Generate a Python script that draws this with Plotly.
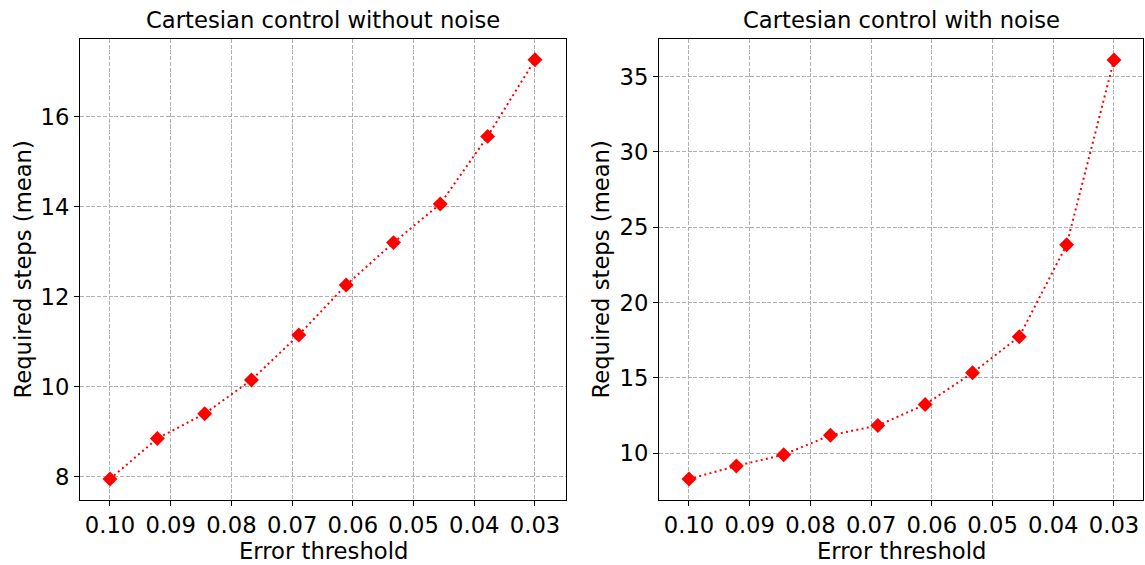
import plotly.graph_objects as go

# ---- data ----
thresholds = [0.10, 0.0922, 0.0844, 0.0767, 0.0689, 0.0611, 0.0533, 0.0456, 0.0378, 0.03]
steps_no_noise = [7.95, 8.85, 9.40, 10.15, 11.15, 12.26, 13.20, 14.06, 15.56, 17.26]
steps_noise = [8.29, 9.16, 9.91, 11.20, 11.84, 13.24, 15.34, 17.74, 23.84, 36.11]
xtick_vals = [0.10, 0.09, 0.08, 0.07, 0.06, 0.05, 0.04, 0.03]
xtick_text = ["0.10", "0.09", "0.08", "0.07", "0.06", "0.05", "0.04", "0.03"]
ytick_left = [8, 10, 12, 14, 16]
ytick_right = [10, 15, 20, 25, 30, 35]
titles = ["Cartesian control without noise", "Cartesian control with noise"]
xlabel = "Error threshold"
ylabel = "Required steps (mean)"

W, H = 1145, 565
FONT = "DejaVu Sans"
FS = 22.7

fig = go.Figure()

line_style = dict(color="#ff0000", width=2, dash="2px,3.3px")
marker_style = dict(symbol="diamond", size=11.5, color="#ff0000", line=dict(width=0))

fig.add_trace(go.Scatter(x=thresholds, y=steps_no_noise, mode="lines+markers",
                         line=line_style, marker=marker_style,
                         xaxis="x", yaxis="y", showlegend=False))
fig.add_trace(go.Scatter(x=thresholds, y=steps_noise, mode="lines+markers",
                         line=line_style, marker=marker_style,
                         xaxis="x2", yaxis="y2", showlegend=False))

# plot areas in pixels
L1, R1 = 80, 566
L2, R2 = 659, 1143
T, B = 39, 500
dom_y = [1 - B / H, 1 - T / H]

common = dict(
    showline=True, linecolor="#000000", linewidth=1.1, mirror=True,
    ticks="outside", ticklen=5, tickwidth=1, tickcolor="#000000",
    showgrid=True, gridcolor="#b0b0b0", gridwidth=1, griddash="4px,1.7px",
    zeroline=False, automargin=False,
    tickfont=dict(family=FONT, size=FS, color="#000000"),
)

fig.update_layout(
    width=W, height=H,
    margin=dict(l=0, r=0, t=0, b=0),
    paper_bgcolor="white", plot_bgcolor="white",
    font=dict(family=FONT, size=FS, color="#000000"),
    xaxis=dict(domain=[L1 / W, R1 / W], range=[0.10494, 0.02489],
               tickvals=xtick_vals, ticktext=xtick_text, anchor="y", **common),
    yaxis=dict(domain=dom_y, range=[7.483, 17.723], tickvals=ytick_left,
               anchor="x", **common),
    xaxis2=dict(domain=[L2 / W, R2 / W], range=[0.10494, 0.02522],
                tickvals=xtick_vals, ticktext=xtick_text, anchor="y2", **common),
    yaxis2=dict(domain=dom_y, range=[6.90, 37.50], tickvals=ytick_right,
                anchor="x2", **common),
)

ann = []
for (l, r), t, ycx in [((L1, R1), titles[0], 22), ((L2, R2), titles[1], 600)]:
    cx = (l + r) / 2 / W
    ann.append(dict(text=t, x=cx, y=1 - 20 / H, xref="paper", yref="paper",
                    xanchor="center", yanchor="middle", showarrow=False,
                    font=dict(family=FONT, size=FS, color="#000000")))
    ann.append(dict(text=xlabel, x=cx, y=1 - 550.5 / H, xref="paper", yref="paper",
                    xanchor="center", yanchor="middle", showarrow=False,
                    font=dict(family=FONT, size=FS, color="#000000")))
    ann.append(dict(text=ylabel, x=ycx / W, y=1 - ((T + B) / 2) / H, xref="paper",
                    yref="paper", xanchor="center", yanchor="middle", textangle=-90,
                    showarrow=False, font=dict(family=FONT, size=FS, color="#000000")))
fig.update_layout(annotations=ann)

fig.write_html("out.html")
